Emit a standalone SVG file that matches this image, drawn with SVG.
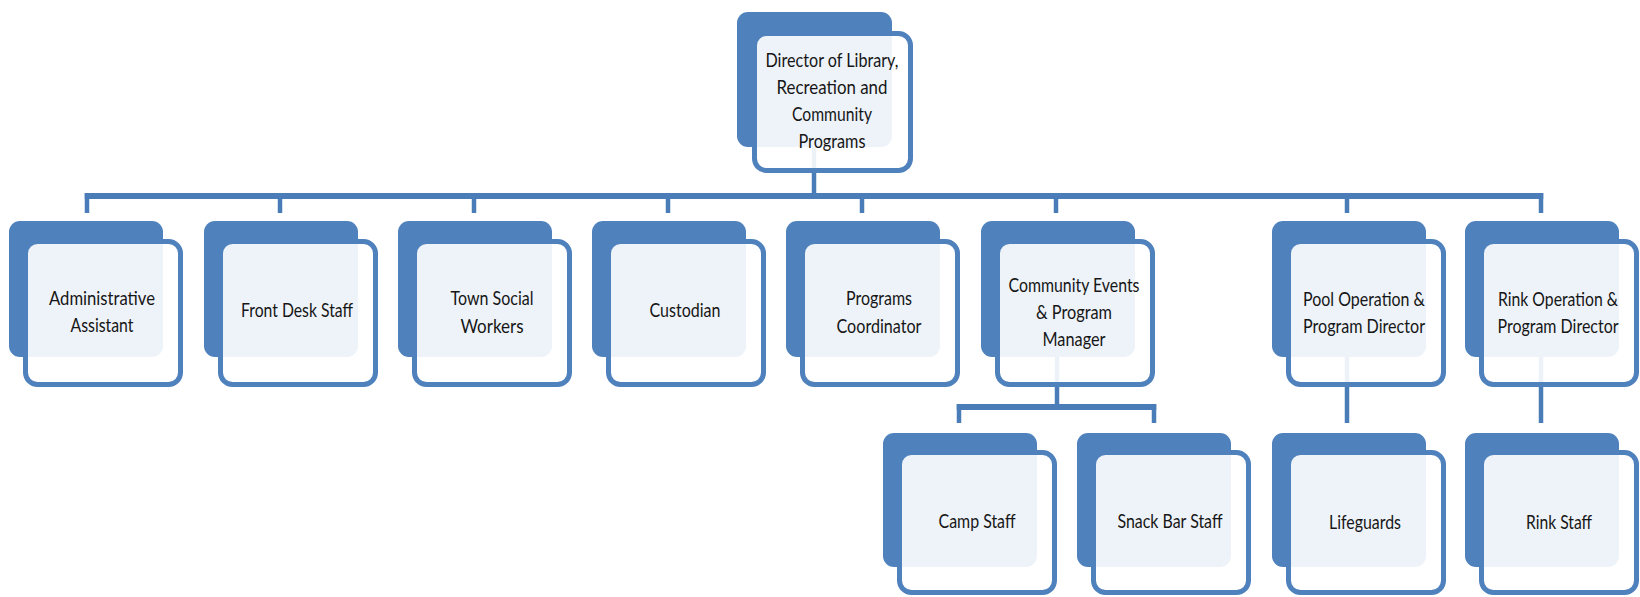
<svg xmlns="http://www.w3.org/2000/svg" width="1640" height="597" viewBox="0 0 1640 597">
  <style>
    .back { fill: #4f81bd; }
    .front { fill: #ffffff; fill-opacity: 0.9; stroke: #4f81bd; stroke-width: 5; }
    .lbl { font-family: Lato, "Open Sans", "Liberation Sans", sans-serif; font-size: 20px; fill: #161616; text-anchor: middle; }
    .h { stroke: #4a7cb8; stroke-width: 6; fill: none; }
    .v { stroke: #4a7cb8; stroke-width: 4.5; fill: none; }
  </style>
  <rect width="1640" height="597" fill="#ffffff"/>

  <!-- connectors (drawn first, so they show faintly through the front cards) -->
  <g id="connectors">
    <line class="v" x1="814" y1="147" x2="814" y2="196"/>
    <line class="h" x1="84.75" y1="196" x2="1543.25" y2="196"/>
    <line class="v" x1="87" y1="193" x2="87" y2="213"/>
    <line class="v" x1="280" y1="196" x2="280" y2="213"/>
    <line class="v" x1="474" y1="196" x2="474" y2="213"/>
    <line class="v" x1="668" y1="196" x2="668" y2="213"/>
    <line class="v" x1="862" y1="196" x2="862" y2="213"/>
    <line class="v" x1="1056" y1="196" x2="1056" y2="213"/>
    <line class="v" x1="1347" y1="196" x2="1347" y2="213"/>
    <line class="v" x1="1541" y1="193" x2="1541" y2="213"/>

    <line class="v" x1="1057" y1="357" x2="1057" y2="407"/>
    <line class="h" x1="956.75" y1="407" x2="1156.25" y2="407"/>
    <line class="v" x1="959" y1="404" x2="959" y2="423"/>
    <line class="v" x1="1154" y1="404" x2="1154" y2="423"/>

    <line class="v" x1="1347" y1="357" x2="1347" y2="423"/>
    <line class="v" x1="1541" y1="357" x2="1541" y2="423"/>
  </g>

  <g id="director">
    <rect class="back" x="737" y="12" width="155" height="135" rx="11"/>
    <rect class="front" x="754.5" y="33.5" width="156" height="137" rx="12"/>
    <text class="lbl" x="832" y="67" textLength="133" lengthAdjust="spacingAndGlyphs">Director of Library,</text>
    <text class="lbl" x="832" y="94" textLength="111" lengthAdjust="spacingAndGlyphs">Recreation and</text>
    <text class="lbl" x="832" y="121" textLength="80" lengthAdjust="spacingAndGlyphs">Community</text>
    <text class="lbl" x="832" y="148" textLength="67" lengthAdjust="spacingAndGlyphs">Programs</text>
  </g>

  <g id="admin-assistant">
    <rect class="back" x="9" y="221" width="154" height="136" rx="11"/>
    <rect class="front" x="25.5" y="241.5" width="155" height="143" rx="12"/>
    <text class="lbl" x="102" y="305" textLength="106" lengthAdjust="spacingAndGlyphs">Administrative</text>
    <text class="lbl" x="102" y="332" textLength="63" lengthAdjust="spacingAndGlyphs">Assistant</text>
  </g>

  <g id="front-desk">
    <rect class="back" x="204" y="221" width="154" height="136" rx="11"/>
    <rect class="front" x="220.5" y="241.5" width="155" height="143" rx="12"/>
    <text class="lbl" x="297" y="317" textLength="112" lengthAdjust="spacingAndGlyphs">Front Desk Staff</text>
  </g>

  <g id="social-workers">
    <rect class="back" x="398" y="221" width="154" height="136" rx="11"/>
    <rect class="front" x="414.5" y="241.5" width="155" height="143" rx="12"/>
    <text class="lbl" x="492" y="305" textLength="83" lengthAdjust="spacingAndGlyphs">Town Social</text>
    <text class="lbl" x="492" y="333" textLength="63" lengthAdjust="spacingAndGlyphs">Workers</text>
  </g>

  <g id="custodian">
    <rect class="back" x="592" y="221" width="154" height="136" rx="11"/>
    <rect class="front" x="608.5" y="241.5" width="155" height="143" rx="12"/>
    <text class="lbl" x="685" y="317" textLength="71" lengthAdjust="spacingAndGlyphs">Custodian</text>
  </g>

  <g id="programs-coordinator">
    <rect class="back" x="786" y="221" width="154" height="136" rx="11"/>
    <rect class="front" x="802.5" y="241.5" width="155" height="143" rx="12"/>
    <text class="lbl" x="879" y="305" textLength="66" lengthAdjust="spacingAndGlyphs">Programs</text>
    <text class="lbl" x="879" y="333" textLength="85" lengthAdjust="spacingAndGlyphs">Coordinator</text>
  </g>

  <g id="events-manager">
    <rect class="back" x="981" y="221" width="154" height="136" rx="11"/>
    <rect class="front" x="997.5" y="241.5" width="155" height="143" rx="12"/>
    <text class="lbl" x="1074" y="292" textLength="131" lengthAdjust="spacingAndGlyphs">Community Events</text>
    <text class="lbl" x="1074" y="319" textLength="76" lengthAdjust="spacingAndGlyphs">&amp; Program</text>
    <text class="lbl" x="1074" y="346" textLength="63" lengthAdjust="spacingAndGlyphs">Manager</text>
  </g>

  <g id="pool-director">
    <rect class="back" x="1272" y="221" width="154" height="136" rx="11"/>
    <rect class="front" x="1288.5" y="241.5" width="155" height="143" rx="12"/>
    <text class="lbl" x="1364" y="306" textLength="122" lengthAdjust="spacingAndGlyphs">Pool Operation &amp;</text>
    <text class="lbl" x="1364" y="333" textLength="122" lengthAdjust="spacingAndGlyphs">Program Director</text>
  </g>

  <g id="rink-director">
    <rect class="back" x="1465" y="221" width="154" height="136" rx="11"/>
    <rect class="front" x="1481.5" y="241.5" width="155" height="143" rx="12"/>
    <text class="lbl" x="1558" y="306" textLength="120" lengthAdjust="spacingAndGlyphs">Rink Operation &amp;</text>
    <text class="lbl" x="1558" y="333" textLength="121" lengthAdjust="spacingAndGlyphs">Program Director</text>
  </g>

  <g id="camp-staff">
    <rect class="back" x="883" y="433" width="154" height="134" rx="11"/>
    <rect class="front" x="899.5" y="452.5" width="155" height="140" rx="12"/>
    <text class="lbl" x="977" y="528" textLength="77" lengthAdjust="spacingAndGlyphs">Camp Staff</text>
  </g>

  <g id="snack-bar-staff">
    <rect class="back" x="1077" y="433" width="154" height="134" rx="11"/>
    <rect class="front" x="1093.5" y="452.5" width="155" height="140" rx="12"/>
    <text class="lbl" x="1170" y="528" textLength="105" lengthAdjust="spacingAndGlyphs">Snack Bar Staff</text>
  </g>

  <g id="lifeguards">
    <rect class="back" x="1272" y="433" width="154" height="134" rx="11"/>
    <rect class="front" x="1288.5" y="452.5" width="155" height="140" rx="12"/>
    <text class="lbl" x="1365" y="529" textLength="72" lengthAdjust="spacingAndGlyphs">Lifeguards</text>
  </g>

  <g id="rink-staff">
    <rect class="back" x="1465" y="433" width="154" height="134" rx="11"/>
    <rect class="front" x="1481.5" y="452.5" width="155" height="140" rx="12"/>
    <text class="lbl" x="1559" y="529" textLength="66" lengthAdjust="spacingAndGlyphs">Rink Staff</text>
  </g>
</svg>
